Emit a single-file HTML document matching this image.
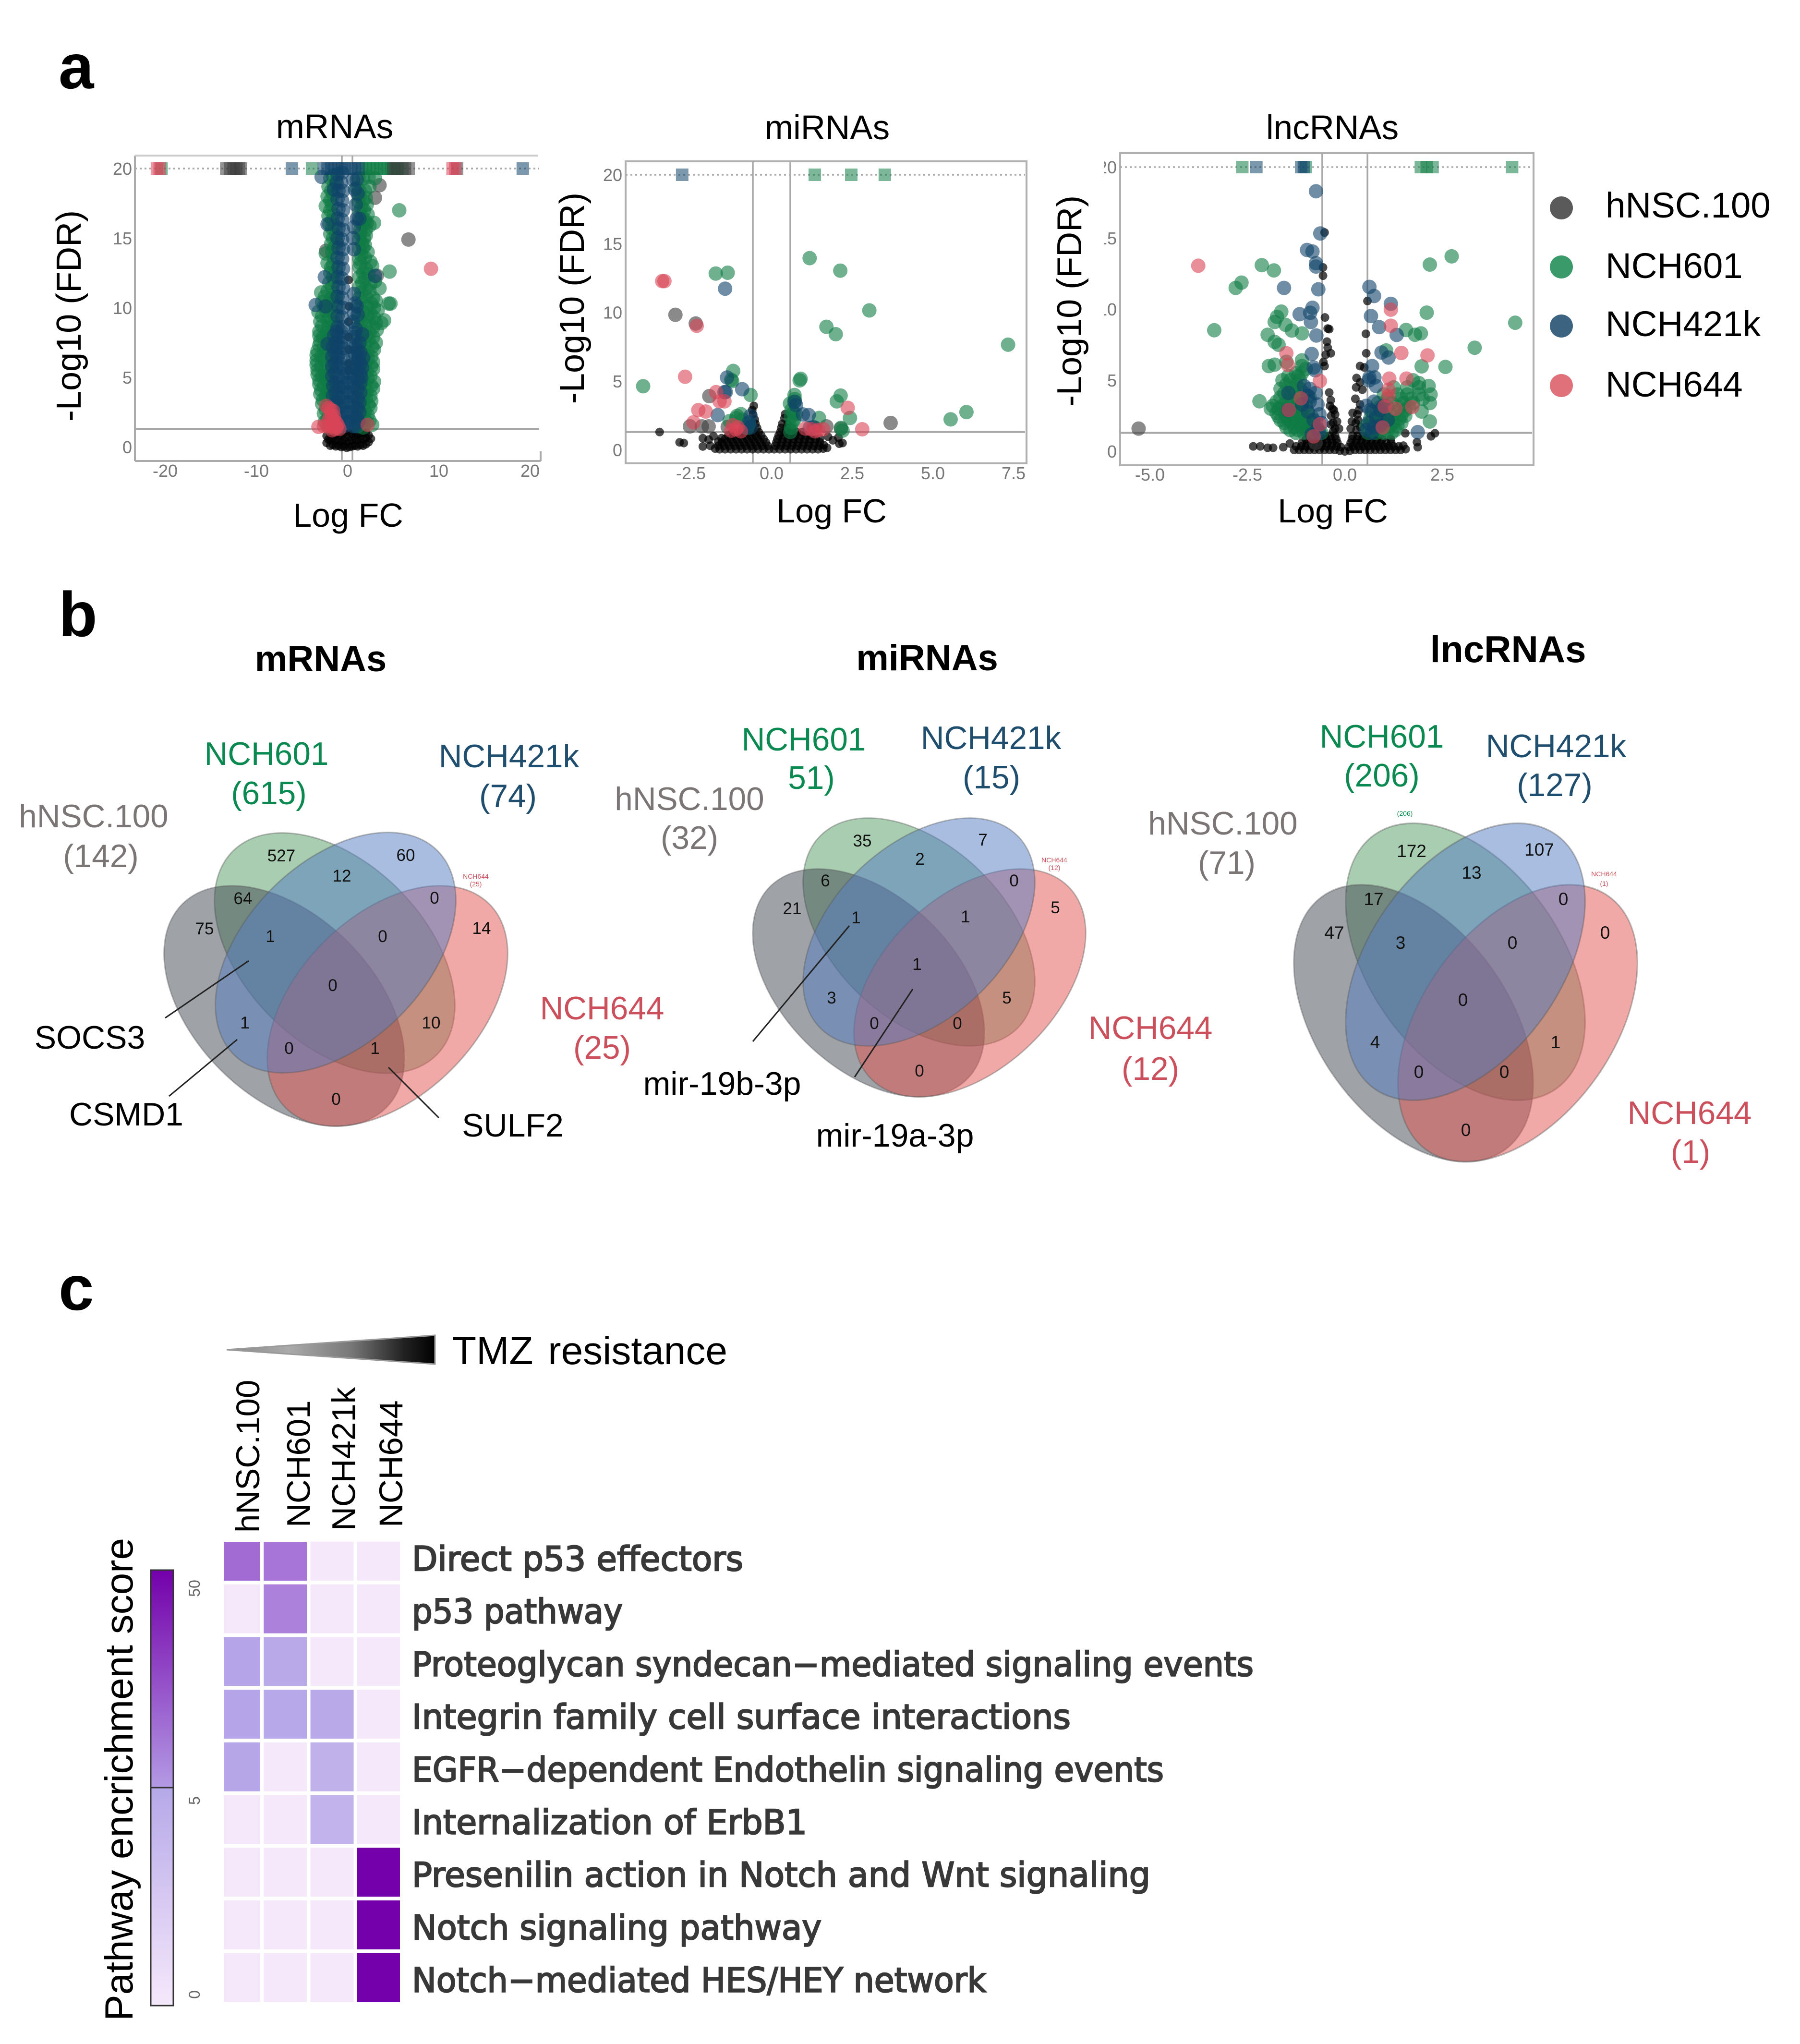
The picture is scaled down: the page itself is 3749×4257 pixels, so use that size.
<!DOCTYPE html>
<html><head><meta charset="utf-8"><title>Panels a-c</title>
<style>
html,body{margin:0;padding:0;background:#fff}
svg{display:block}
text{font-family:"Liberation Sans",sans-serif}
</style></head>
<body>
<svg id="fig" xmlns="http://www.w3.org/2000/svg" width="3749" height="4257" viewBox="0 0 3749 4257">
<defs>
<linearGradient id="tri" x1="0" x2="1" y1="0" y2="0"><stop offset="0" stop-color="#888"/><stop offset=".3" stop-color="#aaa"/><stop offset=".6" stop-color="#777"/><stop offset=".85" stop-color="#222"/><stop offset="1" stop-color="#000"/></linearGradient>
<linearGradient id="barLow" x1="0" x2="0" y1="0" y2="1"><stop offset="0" stop-color="#b5a8e8"/><stop offset="1" stop-color="#f6e8fb"/></linearGradient>
<linearGradient id="barHigh" x1="0" x2="0" y1="0" y2="1"><stop offset="0" stop-color="#7300aa"/><stop offset="1" stop-color="#b39ae4"/></linearGradient>
<clipPath id="heatClip"><rect x="466" y="3211" width="367" height="959"/></clipPath>
<clipPath id="lncLabelClip"><rect x="2299" y="300" width="100" height="700"/></clipPath>
</defs>
<rect width="3749" height="4257" fill="#fff"/>

<g font-weight="bold" font-size="132" fill="#000">
<text x="122" y="184">a</text>
<text x="122" y="1325">b</text>
<text x="122" y="2728">c</text>
</g>

<g id="volcanoes"></g>

<g font-size="74.5" fill="#000">
<circle cx="3252" cy="433" r="24" fill="#5a5a5a"/>
<circle cx="3252" cy="556" r="24" fill="#3b9a6a"/>
<circle cx="3252" cy="679" r="24" fill="#3c6481"/>
<circle cx="3252" cy="803" r="24" fill="#e0707a"/>
<text x="3344" y="453">hNSC.100</text>
<text x="3344" y="579">NCH601</text>
<text x="3344" y="700">NCH421k</text>
<text x="3344" y="826">NCH644</text>
</g>

<!-- Venn titles -->
<g font-weight="bold" font-size="76" text-anchor="middle" fill="#000">
<text x="668" y="1398">mRNAs</text>
<text x="1931" y="1396">miRNAs</text>
<text x="3141" y="1379" font-size="78">lncRNAs</text>
</g>

<!-- Venn mRNA -->
<g>
<g stroke="#5a5a5a" stroke-opacity=".4" stroke-width="3" fill-opacity=".5">
<ellipse transform="translate(697 1985) rotate(45)" rx="300" ry="188" fill="#539b61"/>
<ellipse transform="translate(592 2095) rotate(45)" rx="300" ry="188" fill="#40464f"/>
<ellipse transform="translate(807 2095) rotate(-45)" rx="300" ry="188" fill="#e1534d"/>
<ellipse transform="translate(699 1984) rotate(-45)" rx="300" ry="188" fill="#537bc1"/>
</g>
<g font-size="35" text-anchor="middle" fill="#111">
<text x="586" y="1794">527</text>
<text x="845" y="1793">60</text>
<text x="712" y="1836">12</text>
<text x="506" y="1883">64</text>
<text x="905" y="1882">0</text>
<text x="426" y="1946">75</text>
<text x="1003" y="1945">14</text>
<text x="563" y="1962">1</text>
<text x="797" y="1962">0</text>
<text x="693" y="2064">0</text>
<text x="510" y="2142">1</text>
<text x="898" y="2142">10</text>
<text x="602" y="2195">0</text>
<text x="781" y="2195">1</text>
<text x="700" y="2301">0</text>
</g>
<g font-size="67.5" text-anchor="middle">
<text x="555" y="1593" fill="#0a8a50">NCH601</text>
<text x="560" y="1675" fill="#0a8a50">(615)</text>
<text x="1060" y="1598" fill="#1f4e6e">NCH421k</text>
<text x="1058" y="1681" fill="#1f4e6e">(74)</text>
<text x="195" y="1723" fill="#7b7575">hNSC.100</text>
<text x="210" y="1806" fill="#7b7575">(142)</text>
<text x="1254" y="2123" fill="#cc4f5c">NCH644</text>
<text x="1254" y="2205" fill="#cc4f5c">(25)</text>
<text x="187" y="2184" font-size="68" fill="#000">SOCS3</text>
<text x="263" y="2344" font-size="68" fill="#000">CSMD1</text>
<text x="1068" y="2367" font-size="68" fill="#000">SULF2</text>
</g>
<g font-size="14" text-anchor="middle" fill="#cc4f5c">
<text x="991" y="1830">NCH644</text>
<text x="991" y="1846">(25)</text>
</g>
<g stroke="#222" stroke-width="3">
<line x1="344" y1="2120" x2="518" y2="2001"/>
<line x1="352" y1="2283" x2="494" y2="2165"/>
<line x1="914" y1="2328" x2="809" y2="2223"/>
</g>
</g>

<!-- Venn miRNA -->
<g>
<g stroke="#5a5a5a" stroke-opacity=".4" stroke-width="3" fill-opacity=".5">
<ellipse transform="translate(1914 1941) scale(.964 .948) rotate(45)" rx="300" ry="188" fill="#539b61"/>
<ellipse transform="translate(1809 2047) scale(.964 .948) rotate(45)" rx="300" ry="188" fill="#40464f"/>
<ellipse transform="translate(2020 2047) scale(.964 .948) rotate(-45)" rx="300" ry="188" fill="#e1534d"/>
<ellipse transform="translate(1914 1941) scale(.964 .948) rotate(-45)" rx="300" ry="188" fill="#537bc1"/>
</g>
<g font-size="35" text-anchor="middle" fill="#111">
<text x="1796" y="1763">35</text>
<text x="2047" y="1761">7</text>
<text x="1916" y="1801">2</text>
<text x="1719" y="1846">6</text>
<text x="2112" y="1846">0</text>
<text x="1650" y="1904">21</text>
<text x="2198" y="1902">5</text>
<text x="1783" y="1923">1</text>
<text x="2011" y="1921">1</text>
<text x="1910" y="2020">1</text>
<text x="1732" y="2090">3</text>
<text x="2097" y="2090">5</text>
<text x="1821" y="2143">0</text>
<text x="1994" y="2143">0</text>
<text x="1915" y="2242">0</text>
</g>
<g font-size="67.5" text-anchor="middle">
<text x="1674" y="1563" fill="#0a8a50">NCH601</text>
<text x="1690" y="1643" fill="#0a8a50">51)</text>
<text x="2064" y="1560" fill="#1f4e6e">NCH421k</text>
<text x="2065" y="1642" fill="#1f4e6e">(15)</text>
<text x="1436" y="1687" fill="#7b7575">hNSC.100</text>
<text x="1436" y="1768" fill="#7b7575">(32)</text>
<text x="2396" y="2164" fill="#cc4f5c">NCH644</text>
<text x="2396" y="2249" fill="#cc4f5c">(12)</text>
<text x="1504" y="2280" font-size="68" fill="#000">mir-19b-3p</text>
<text x="1864" y="2388" font-size="68" fill="#000">mir-19a-3p</text>
</g>
<g font-size="14" text-anchor="middle" fill="#cc4f5c">
<text x="2196" y="1796">NCH644</text>
<text x="2196" y="1812">(12)</text>
</g>
<g stroke="#222" stroke-width="3">
<line x1="1568" y1="2169" x2="1769" y2="1928"/>
<line x1="1780" y1="2243" x2="1901" y2="2060"/>
</g>
</g>

<!-- Venn lncRNA -->
<g>
<g stroke="#5a5a5a" stroke-opacity=".4" stroke-width="3" fill-opacity=".5">
<ellipse transform="translate(3052 2003) scale(.996 1.152) rotate(45)" rx="300" ry="188" fill="#539b61"/>
<ellipse transform="translate(2944 2131) scale(.996 1.152) rotate(45)" rx="300" ry="188" fill="#40464f"/>
<ellipse transform="translate(3161 2131) scale(.996 1.152) rotate(-45)" rx="300" ry="188" fill="#e1534d"/>
<ellipse transform="translate(3052 2003) scale(.996 1.152) rotate(-45)" rx="300" ry="188" fill="#537bc1"/>
</g>
<g font-size="37" text-anchor="middle" fill="#111">
<text x="2940" y="1785">172</text>
<text x="3206" y="1782">107</text>
<text x="3065" y="1830">13</text>
<text x="2861" y="1885">17</text>
<text x="3256" y="1885">0</text>
<text x="2779" y="1955">47</text>
<text x="3343" y="1955">0</text>
<text x="2917" y="1976">3</text>
<text x="3150" y="1976">0</text>
<text x="3047" y="2095">0</text>
<text x="2864" y="2183">4</text>
<text x="3240" y="2183">1</text>
<text x="2955" y="2245">0</text>
<text x="3133" y="2245">0</text>
<text x="3053" y="2366">0</text>
</g>
<g font-size="67.5" text-anchor="middle">
<text x="2878" y="1557" fill="#0a8a50">NCH601</text>
<text x="2878" y="1638" fill="#0a8a50">(206)</text>
<text x="3241" y="1577" fill="#1f4e6e">NCH421k</text>
<text x="3238" y="1658" fill="#1f4e6e">(127)</text>
<text x="2547" y="1738" fill="#7b7575">hNSC.100</text>
<text x="2555" y="1820" fill="#7b7575">(71)</text>
<text x="3519" y="2341" fill="#cc4f5c">NCH644</text>
<text x="3521" y="2422" fill="#cc4f5c">(1)</text>
</g>
<g font-size="14" text-anchor="middle">
<text x="2926" y="1699" fill="#0a8a50">(206)</text>
<text x="3341" y="1825" fill="#cc4f5c">NCH644</text>
<text x="3341" y="1845" fill="#cc4f5c">(1)</text>
</g>
</g>

<!-- Panel c -->
<polygon points="472,2811 906,2781 906,2841" fill="url(#tri)" stroke="#999" stroke-width="3"/>
<text x="942" y="2841" font-size="82" word-spacing="8" fill="#000">TMZ resistance</text>
<text transform="translate(276 3706) rotate(-90)" font-size="82" text-anchor="middle" textLength="1006" lengthAdjust="spacing" fill="#000">Pathway encrichment score</text>
<g>
<rect x="314" y="3723" width="47" height="454" fill="url(#barLow)"/>
<rect x="314" y="3270" width="47" height="453" fill="url(#barHigh)"/>
<rect x="314" y="3270" width="47" height="907" fill="none" stroke="#333" stroke-width="3"/>
<line x1="314" x2="361" y1="3723" y2="3723" stroke="#333" stroke-width="3"/>
</g>
<g id="heatmap"></g>

<g id="rowLabels"></g>
</svg>

<script>
/* ---------- Volcano data (log FC, -log10 FDR) ---------- */
const yTickValues = [0, 5, 10, 15, 20];
const mrnaXTicks = ["-20", "-10", "0", "10", "20"];
const mirnaXTicks = ["-2.5", "0.0", "2.5", "5.0", "7.5"];
const lncXTicks = ["-5.0", "-2.5", "0.0", "2.5"];

const mrnaBlack = [[-2.3,.3],[-2.3,.8],[-2.1,.55],[-1.9,.1],[-1.9,.5],[-1.9,.95],[-1.6,.15],[-1.6,.6],[-1.6,1.05],[-1.3,.05],[-1.3,.45],[-1.3,.9],[-1,.1],[-1,.55],[-1,1.05],[-.7,0],[-.7,.4],[-.7,.85],[-.4,.05],[-.4,.5],[-.4,1],[-.1,-.05],[-.1,.4],[-.1,.9],[.2,0],[.2,.45],[.2,1],[.5,.05],[.5,.5],[.5,.95],[.8,.1],[.8,.6],[.8,1.1],[1.1,.05],[1.1,.5],[1.1,.95],[1.4,.15],[1.4,.6],[1.4,1.05],[1.7,.1],[1.7,.55],[1.7,1],[2,.2],[2,.65],[2,1.05],[2.3,.35],[2.3,.85],[2.55,.6],[.1,12],[.15,10.1],[.1,9],[.1,7.9],[.15,7],[.1,6],[.1,5.5]];
const mrnaGray = [[3.5,18.8],[3,17.9],[2.1,16.1],[6.67,14.9],[-2.35,14.1],[3.2,12.3]];
const mrnaGreen = [[-1.9,19.3],[-1.3,19.2],[1.2,19.3],[2.3,19.4],[3,19.3],[-2.1,18.7],[-1.5,18.8],[1,18.6],[2.4,18.7],[-2.2,18],[-1.6,18.1],[1.3,18],[2,17.9],[-2.4,17.3],[-1.7,17.4],[1.5,17.2],[2.1,17.4],[-2.1,16.6],[-1.5,16.7],[1.6,16.5],[2.2,16.7],[-2,16],[-1.4,15.9],[1.7,16],[2.4,15.9],[2.9,16.1],[-1.9,15.3],[-1.3,15.2],[1.4,15.3],[2,15.2],[-1.8,14.6],[-1.2,14.7],[1.6,14.6],[1.9,14.5],[-2.4,13.9],[-1.7,14],[1.5,13.8],[2.2,14],[-2.2,13.2],[-1.6,13.1],[1.4,13.2],[2.5,13.3],[2.7,13],[-1.9,12.5],[-1.3,12.6],[1.7,12.5],[2.3,12.4],[4.6,12.6],[-2,11.8],[-1.4,11.9],[1.6,11.8],[2.5,11.7],[3,11.9],[-2.9,11.1],[-2.2,11.2],[-1.5,11],[1.5,11.1],[2.4,11.2],[3.5,11.4],[-2.8,10.4],[-2.1,10.3],[-1.4,10.5],[1.6,10.4],[2.6,10.3],[3.1,10.5],[4.5,10.3],[4.7,10.3],[-3.2,9.7],[-2.4,9.8],[-1.6,9.6],[1.7,9.7],[2.5,9.6],[3.3,9.8],[-3,9],[-2.2,9.1],[-1.4,8.9],[1.5,9],[2.3,9.1],[3.1,8.9],[4,9.1],[-3.1,8.3],[-2.3,8.2],[-1.5,8.4],[1.6,8.3],[2.4,8.2],[3.2,8.4],[3.7,8.9],[-3,7.6],[-2.2,7.7],[-1.4,7.5],[1.5,7.6],[2.3,7.7],[3.1,7.5],[-3.3,6.9],[-2.5,6.8],[-1.7,7],[1.4,6.9],[2.2,6.8],[2.9,7],[-3.4,6.2],[-2.6,6.3],[-1.8,6.1],[1.5,6.2],[2.2,6.3],[2.8,6.1],[-3.3,5.5],[-2.5,5.4],[-1.7,5.6],[1.4,5.5],[2.1,5.4],[2.8,5.6],[-3.1,4.8],[-2.4,4.9],[-1.7,4.7],[1.5,4.8],[2.2,4.9],[2.9,4.7],[-2.9,4.1],[-2.2,4],[-1.5,4.2],[1.4,4.1],[2.1,4],[2.8,4.2],[-2.7,3.4],[-2,3.5],[-1.4,3.3],[1.4,3.4],[2,3.5],[2.6,3.3],[-2.4,2.7],[-1.8,2.6],[-1.2,2.8],[1.3,2.7],[1.9,2.6],[2.5,2.8],[-2.2,2],[-1.6,2.1],[-1,1.9],[1.2,2],[1.8,2.1],[2.4,1.9],[-2,1.4],[-1.4,1.5],[-.9,1.4],[1.1,1.5],[1.7,1.4],[2.7,1.6],[5.66,17],
[-2.5,1.8],[-1.8,1.8],[-1.2,1.7],[1,1.8],[1.5,1.7],[2.1,1.8],[-2.6,2.4],[-2,2.3],[-1.4,2.4],[1.1,2.3],[1.6,2.4],[2.2,2.3],[-2.8,3.1],[-2.2,3],[-1.6,3.1],[1.2,3],[1.7,3.1],[2.3,3],[-3,3.8],[-2.4,3.7],[-1.8,3.8],[1.2,3.7],[1.8,3.8],[2.5,3.7],[-3.1,4.5],[-2.6,4.4],[-2,4.5],[1.3,4.4],[1.9,4.5],[2.6,4.4],[-3.3,5.2],[-2.8,5.1],[-2.1,5.2],[1.2,5.1],[1.8,5.2],[2.5,5.1],[-3.4,5.9],[-2.9,5.8],[-2.2,5.9],[1.2,5.8],[1.9,5.9],[2.6,5.8],[-3.4,6.6],[-2.9,6.5],[-2.1,6.6],[1.2,6.5],[1.8,6.6],[2.6,6.5],[-3.1,7.3],[-2.6,7.2],[-1.9,7.3],[1.2,7.2],[1.9,7.3],[2.7,7.2],[-3.1,8],[-2.7,7.9],[-1.9,8],[1.3,7.9],[2,8],[2.8,7.9],[-2.8,8.7],[-2.1,8.6],[-1.7,8.7],[1.3,8.6],[2,8.7],[2.8,8.6],[-2.8,9.4],[-2,9.3],[-1.4,9.4],[1.3,9.3],[2.1,9.4],[2.9,9.3],[-2.6,10.1],[-1.9,10],[-1.3,10.1],[1.3,10],[2.1,10.1],[2.9,10],[-2.5,10.8],[-1.8,10.7],[-1.3,10.8],[1.3,10.7],[2,10.8],[2.8,10.7],[-1.7,11.5],[1.3,11.5],[2,11.4],[-1.6,12.2],[1.3,12.2],[1.9,12.1],[-1.8,12.9],[1.3,12.9],[2,12.8],[-1.5,13.6],[1.3,13.5],[1.9,13.6],[-1.5,14.3],[1.3,14.2],[1.7,14.3],[-1.6,15],[1.3,14.9],[1.8,15],[-1.7,15.7],[1.4,15.6],[2,15.6],[-1.7,16.3],[1.3,16.2],[1.9,16.3],[-1.9,17],[1.3,16.9],[1.8,17],[-1.9,17.7],[1.2,17.6],[1.7,17.7],[-1.8,18.4],[1.3,18.4],[1.9,18.4],[-1.6,19.5],[1.7,19.3]];
const mrnaBlue = [[-2.85,19.4],[-1.1,19.6],[-.6,19.7],[-1.2,19],[-.7,19],[-1.5,18.5],[-1,18.4],[-.5,18.4],[-1.1,17.8],[-.6,17.7],[-1,17.1],[-.5,17],[-1.1,16.4],[-.6,16.3],[-2.2,16],[-1,15.7],[-.5,15.6],[-1.1,15],[-.6,14.9],[-1,14.3],[-.5,14.2],[-1.1,13.6],[-.6,13.5],[-1,12.9],[-.5,12.8],[-2.5,12.2],[-1.1,12.2],[-.6,12.1],[-1,11.5],[-.5,11.4],[-3.5,10.2],[-2.4,10.1],[-1.1,10.8],[-.6,10.7],[-1,10.1],[-.5,10],[-1.1,9.4],[-.6,9.3],[-1.1,8.6],[-.5,8.6],[-1.5,8],[-1,7.9],[-.5,7.9],[-2.2,7.4],[-1.6,7.2],[-1,7.2],[-.5,7.1],[-1.7,6.5],[-1.1,6.5],[-.5,6.4],[-1.7,5.8],[-1.1,5.8],[-.5,5.7],[-1.7,5.1],[-1.1,5],[-.5,5],[-1.6,4.4],[-1,4.3],[-.5,4.3],[-1.6,3.7],[-1,3.6],[-.5,3.6],[-1.5,3],[-.9,2.9],[-.5,2.9],[-.9,2.2],[-.5,2.2],[-.8,1.5],[-.4,1.5],[.6,19.2],[1,19.2],[.8,18.5],[1.1,18.2],[.9,17.4],[1,16.4],[1.3,16.4],[.7,15.8],[.6,15],[.7,14.2],[3,12.3],[.7,11],[.8,10.3],[1,10.1],[.7,9.6],[1.1,9.5],[.6,9],[.9,8.5],[1.6,8.1],[.7,7.9],[1.3,7.5],[.6,7.2],[1.1,6.9],[.6,6.4],[1.2,6.3],[1.7,6.4],[.6,5.7],[1.1,5.6],[1.6,5.7],[.6,5],[1.1,4.9],[1.5,5],[.6,4.3],[1.1,4.2],[.6,3.6],[1.1,3.5],[.6,2.9],[1.1,2.8],[.6,2.2],[1,2.1],[.6,1.5],[.9,1.5],
[-1.3,1.8],[-.2,1.8],[.2,1.8],[1.2,1.8],[-1.3,2.5],[-.2,2.5],[.2,2.5],[1.3,2.5],[-1.3,3.2],[-.2,3.2],[.2,3.2],[1.3,3.2],[-1.3,3.9],[-.2,3.9],[.2,3.9],[1.4,3.9],[-1.3,4.6],[-.2,4.6],[.2,4.6],[1.4,4.6],[-1.4,5.3],[-.2,5.3],[.2,5.3],[1.4,5.3],[-1.4,6],[-.8,6],[.8,6],[1.4,6],[-1.4,6.8],[-.8,6.8],[.8,6.7],[1.4,6.8],[-1.3,7.5],[-.7,7.5],[.9,7.3],[-1.2,8.3],[-.7,8.3],[.8,8.2]];
const mrnaRed = [[-2.35,2.96],[-2.1,2.8],[-1.6,2.6],[-1.9,2.3],[-1.5,2.2],[-2.1,1.9],[-1.5,1.9],[-1.8,1.5],[-1.2,1.4],[-2.2,1.5],[-1.4,1.3],[-.9,1.3],[-3.2,1.45],[-2.6,1.5],[2.2,1.6],[9.14,12.8],[-1.1,1.6],[-1.7,1.2],[-1.9,2.7],[-1.7,2],[-1.3,1.8]];
const mrnaSquaresGray = [-13.3,-12.9,-12.5,-12.2,-11.9,-11.7,5,5.4,6.3,6.7,12];
const mrnaSquaresGreen = [-20.4,-3.9,1.6,2,2.4,2.8,3.2,3.6,4,4.4,4.8,5.2,5.5,6];
const mrnaSquaresBlue = [-6.1,-2.6,-2.2,-1.8,-1.4,-1,-.6,-.3,.4,.8,1.2,19.2];
const mrnaSquaresRed = [-20.9,-20.6,11.5,11.8];

const mirnaBlack = [[-.08,.05],[-.25,.05],[-.42,.05],[-.59,.05],[-.76,.05],[-.93,.05],[-1.1,.05],[-1.27,.05],[-1.44,.05],[-1.61,.05],[-1.75,.1],[-.12,.3],[-.29,.3],[-.46,.3],[-.63,.3],[-.8,.3],[-.97,.3],[-1.14,.3],[-1.31,.3],[-1.48,.3],[-1.65,.3],[-.18,.55],[-.35,.55],[-.52,.55],[-.69,.55],[-.86,.55],[-1.03,.55],[-1.2,.55],[-1.37,.55],[-1.54,.55],[-1.65,.6],[-.25,.8],[-.42,.8],[-.59,.8],[-.76,.8],[-.93,.8],[-1.1,.8],[-1.27,.8],[-1.44,.8],[-1.55,.85],[-.32,1.05],[-.49,1.05],[-.66,1.05],[-.83,1.05],[-1,1.05],[-1.17,1.05],[-1.34,1.05],[-.4,1.3],[-.57,1.3],[-.74,1.3],[-.91,1.3],[-1.08,1.3],[-1.2,1.3],[-.45,1.6],[-.6,1.6],[-.75,1.6],[-.9,1.6],[-.5,1.9],[-.65,1.9],[-.52,2.2],[-.58,2.6],[-.6,2.9],[-.55,3.2],[-3.47,1.3],[-2.85,.55],[-2.72,.5],[-2.13,.85],[-2.13,.25],[-1.9,.3],[-1.95,.75],[-1.8,1],
[.08,.05],[.25,.05],[.42,.05],[.59,.05],[.76,.05],[.93,.05],[1.1,.05],[1.27,.05],[1.44,.05],[1.6,.1],[1.72,.15],[.12,.3],[.29,.3],[.46,.3],[.63,.3],[.8,.3],[.97,.3],[1.14,.3],[1.31,.3],[1.48,.3],[1.62,.35],[.15,.55],[.32,.55],[.49,.55],[.66,.55],[.83,.55],[1,.55],[1.17,.55],[1.34,.55],[1.5,.55],[.18,.8],[.35,.8],[.52,.8],[.69,.8],[.86,.8],[1.03,.8],[1.2,.8],[1.37,.8],[1.5,.85],[.22,1.05],[.39,1.05],[.56,1.05],[.73,1.05],[.9,1.05],[1.07,1.05],[1.24,1.05],[.27,1.3],[.44,1.3],[.61,1.3],[.78,1.3],[.95,1.3],[.3,1.6],[.47,1.6],[.64,1.6],[.33,1.9],[.5,1.9],[.4,2.3],[.42,2.6],[2.07,.9],[2.2,.5],[2.1,.45],[1.9,.7],[1.75,.95]];
const mirnaGray = [[-2.98,9.82],[-2.35,9.19],[-1.93,3.91],[3.69,1.96],[-2.53,1.71],[-2.16,1.71],[-1.95,1.71],[-1.36,1.67],[1.7,1.71],[2.15,1.55],[1.35,1.6]];
const mirnaGreen = [[1.18,13.94],[2.13,13.03],[-1.73,12.82],[-1.36,12.88],[3.03,10.14],[1.7,8.95],[1.99,8.41],[7.33,7.65],[-3.98,4.63],[-1.19,5.74],[-1.22,5],[-1.25,5.1],[-.65,3.99],[.9,5.17],[.87,5.05],[.71,3.99],[.57,3.36],[.72,3.7],[.7,3.5],[2.14,3.95],[2.02,3.53],[2.43,2.32],[1.47,2.32],[6.04,2.75],[5.55,2.22],[.62,2.9],[.68,2.7],[.6,2.4],[.7,2.2],[.65,2],[.6,1.6],[.58,1.3],[.75,2.6],[-1.07,2.47],[-.95,2.6],[-1.1,2.3],[-.9,2.2],[-1.3,2.1],[-.7,1.9],[2.2,1.4],[2.15,1.6],[-.75,1.6]];
const mirnaBlue = [[-1.44,11.72],[-1.38,5.26],[-1.42,4.2],[-1.46,4.2],[-.91,4.41],[-1.67,2.53],[-.65,2.47],[.76,3.25],[.72,3.5],[.97,2.58],[1.15,2.53],[-.8,1.63],[-.65,1.63],[1.18,1.6],[-.7,2],[1.3,1.65]];
const mirnaRed = [[-3.39,12.27],[-3.32,12.27],[-2.32,9.02],[-2.68,5.32],[-1.72,4.2],[-1.61,3.53],[-1.46,3.53],[-2.27,2.89],[-2.04,2.79],[-2.42,2],[2.36,3.06],[2.81,1.5],[-1.1,1.5],[-1.25,1.4],[-.95,1.35],[-1.05,1.65],[1.23,1.5],[1.05,1.55],[1.45,1.45],[1.6,1.5],[1.35,1.35],[-1.2,1.8]];
const mirnaSquaresGreen = [1.34,2.47,3.51];
const mirnaSquaresBlue = [-2.77];

const lncBlack = [[-.52,15.4],[-.56,12.94],[-.56,12.36],[-.51,9.42],[-.44,8.64],[-.4,8.6],[-.46,7.72],[-.44,7.3],[-.36,6.9],[-.49,6.8],[-.55,6.28],[-.52,6],[-.4,4.14],[-.36,3.6],[-.32,3],[-.35,2.5],[-.25,2.6],[-.3,2],[-.2,2.1],[-.25,1.6],[-.15,1.6],[-.38,3.2],[-.28,2.9],[-.36,1.9],[-.3,1.4],[.58,10.58],[.54,8.27],[.55,6.9],[.39,6],[.5,5.9],[.3,5.16],[.39,4.85],[.29,4.5],[.45,4.34],[.27,3.7],[.39,3.3],[.2,2.7],[.32,2.6],[.18,2.1],[.28,2],[.15,1.6],[.3,1.5],[.36,2.9],[.34,2.2],[.4,1.7],[-2.35,.35],[-2.17,.35],[-1.98,.25],[-1.84,.25],[-1.58,.29],[-1.41,.55],[1.85,.65],[1.87,.29],[1.55,1.27],[2.21,1.06],[2.31,1.27],[1.18,.86],
[-1.3,.1],[-1.17,.1],[-1.04,.1],[-.91,.1],[-.78,.1],[-.65,.1],[-.52,.1],[-.39,.1],[-.26,.1],[-.13,.05],[0,0],[.13,.05],[.26,.1],[.39,.1],[.52,.1],[.65,.1],[.78,.1],[.91,.1],[1.04,.1],[1.17,.1],[1.3,.1],[1.43,.1],[1.56,.15],[-1.25,.35],[-1.12,.35],[-.99,.35],[-.86,.35],[-.73,.35],[-.6,.35],[-.47,.35],[-.34,.35],[-.21,.35],[-.1,.3],[.1,.3],[.21,.35],[.34,.35],[.47,.35],[.6,.35],[.73,.35],[.86,.35],[.99,.35],[1.12,.35],[1.25,.35],[1.38,.35],[1.5,.4],[-1.1,.6],[-.97,.6],[-.84,.6],[-.71,.6],[-.58,.6],[-.45,.6],[-.32,.6],[-.19,.6],[.15,.6],[.28,.6],[.41,.6],[.54,.6],[.67,.6],[.8,.6],[.93,.6],[1.06,.6],[1.19,.6],[-1,.85],[-.87,.85],[-.74,.85],[-.61,.85],[-.48,.85],[-.35,.85],[-.22,.85],[.18,.85],[.31,.85],[.44,.85],[.57,.85],[.7,.85],[.83,.85],[.96,.85],[-.9,1.1],[-.77,1.1],[-.64,1.1],[-.51,1.1],[-.38,1.1],[-.25,1.1],[.2,1.1],[.33,1.1],[.46,1.1],[.59,1.1],[.72,1.1],[.85,1.1]];
const lncGray = [[-5.29,1.6],[-.75,.6]];
const lncGreen = [[-2.13,13.1],[-1.82,12.73],[-2.65,11.87],[-2.8,11.5],[-3.35,8.52],[-1.63,9.83],[-1.74,9.46],[-1.8,9.1],[-1.52,8.9],[-1.36,8.5],[-1.1,8.3],[-1.98,8.2],[-1.8,7.7],[-1.7,7.5],[-1.25,1.3],[-1.05,1.3],[-.9,1.3],[-.75,1.3],[-.6,1.3],[-1.5,1.7],[-1.3,1.7],[-1.1,1.7],[-.95,1.7],[-.8,1.7],[-1.65,2.2],[-1.45,2.2],[-1.25,2.2],[-1.05,2.2],[-.9,2.2],[-1.75,2.7],[-1.55,2.7],[-1.35,2.7],[-1.15,2.7],[-.95,2.7],[-1.85,3.2],[-1.6,3.2],[-1.4,3.2],[-1.2,3.2],[-1,3.2],[-2.19,3.52],[-1.65,3.8],[-1.4,3.8],[-1.2,3.8],[-.9,3.8],[-1.65,4.4],[-1.35,4.4],[-1.15,4.4],[-1.6,5],[-1.4,5],[-1.15,5],[-1.25,5.5],[-1.1,5.5],[-1.95,6],[-1.8,6.1],[-1.5,6.3],[-1.1,6],[-1,5.8],[-1.1,6.4],[2.74,13.72],[2.18,13.14],[2.1,9.76],[4.37,9.05],[3.33,7.29],[2.58,5.94],[1.97,5.98],[1.57,8.54],[1.8,8.2],[1.95,8.3],[1.06,7.1],[.6,1.3],[.8,1.3],[1,1.3],[1.2,1.3],[.55,1.8],[.75,1.8],[.95,1.8],[1.15,1.8],[1.35,1.8],[.65,2.3],[.9,2.3],[1.1,2.3],[1.4,2.3],[1.55,2.5],[.7,2.8],[.95,2.8],[1.3,2.8],[1.55,2.9],[1.97,2.8],[.85,3.4],[1.2,3.4],[1.5,3.4],[1.75,3.4],[2.18,3.4],[1,4],[1.35,4],[1.6,4],[1.9,4],[2.2,4],[1.25,4.5],[1.6,4.5],[1.9,4.5],[2.15,4.6],[1.75,5],[1.9,4.8],[2.18,2.1],
[-1.4,1.5],[-1.2,1.5],[-1,1.5],[-.85,1.5],[-.7,1.5],[-1.55,2],[-1.35,2],[-1.15,2],[-1,2],[-.8,2],[-1.7,2.45],[-1.5,2.45],[-1.3,2.45],[-1.1,2.45],[-.85,2.45],[-1.9,3],[-1.7,3],[-1.5,3],[-1.3,3],[-1.1,3],[-1.75,3.5],[-1.5,3.5],[-1.3,3.5],[-1.1,3.5],[-1.55,4.1],[-1.3,4.1],[-1.05,4.1],[-1.5,4.7],[-1.25,4.7],[-1.45,5.3],[-1.2,5.3],[.7,1.5],[.9,1.5],[1.1,1.5],[1.3,1.5],[.65,2],[.85,2],[1.05,2],[1.25,2],[1.45,2],[.8,2.55],[1,2.55],[1.2,2.55],[1.45,2.55],[.9,3.1],[1.1,3.1],[1.4,3.1],[1.65,3.1],[1.1,3.7],[1.45,3.7],[1.7,3.7],[2,3.7]];
const lncBlue = [[-.74,18.3],[-.63,15.33],[-.97,14.17],[-.83,14.06],[-.74,13.24],[-.74,13],[-1.56,11.5],[-.68,11.4],[.63,11.57],[.75,10.93],[1.18,10.38],[-.83,10.1],[-1.16,9.65],[-.89,9.75],[-.87,9.1],[.67,9.52],[.88,8.74],[1.33,8.19],[-.73,8.15],[-.85,6.85],[-.8,5.9],[-.76,5.7],[.94,6.95],[1.12,6.6],[.7,6],[.63,5.2],[.76,5.2],[-1.05,4.6],[-.9,4.4],[-.75,4.1],[-.9,3.5],[-.7,3.3],[-.95,2.8],[-.65,2.6],[-1.45,4.1],[-.7,1.6],[-.65,1.3],[-.6,2],[-1.45,2.9],[.55,1.5],[.7,1.3],[.6,2],[.8,2.4],[.65,2.9],[.55,3.2],[1,3.2],[.9,1.8],[1.87,1.35],[.62,5],[.8,4.6],[-.85,1.2],[-.8,2.2],[-.95,3.9],[-1.1,3.3],[.75,1.7],[.9,2.9],[.75,3.5],[1.1,2.2]];
const lncRed = [[-3.76,13.06],[1.18,9.97],[1.18,8.84],[-1.5,6.9],[-1.46,6.08],[1.45,6.92],[2.12,6.75],[1.14,5.12],[1.58,5.12],[1.12,4.34],[1.12,3.9],[1.02,3.15],[1.73,3.11],[-.64,4.95],[-1.13,3.73],[-1.44,2.91],[.97,1.68],[-.8,1.05],[-.64,1.9],[1.3,3]];
const lncSquaresGreen = [-2.63,-1,1.95,2.1,2.25,4.29];
const lncSquaresBlue = [-2.27,-1.12,-1.05];

/* ---------- Heatmap data ---------- */
const heatmapSamples = ["hNSC.100","NCH601","NCH421k","NCH644"];
const heatmapPathways = ["Direct p53 effectors","p53 pathway","Proteoglycan syndecan−mediated signaling events","Integrin family cell surface interactions","EGFR−dependent Endothelin signaling events","Internalization of ErbB1","Presenilin action in Notch and Wnt signaling","Notch signaling pathway","Notch−mediated HES/HEY network"];
const heatmapValues = [
 [15,12,0,0],
 [0,8,0,0],
 [4.8,4.5,0,0],
 [4.8,4.6,4.5,0],
 [4.7,0,3.9,0],
 [0,0,3.8,0],
 [0,0,0,50],
 [0,0,0,50],
 [0,0,0,50]
];
const colorbarTicks = [0,5,50];
const rowLabelLengths = [690,439,1753,1372,1566,823,1538,853,1196];

/* ---------- helpers ---------- */
const NS = "http://www.w3.org/2000/svg";
const fig = document.getElementById("fig");
const colors = {black:["#000",.7], gray:["#3c3c3c",.6], green:["#0f7b44",.6], blue:["#0f4369",.6], red:["#d94457",.6]};

function make(tag, parent){
  const el = document.createElementNS(NS, tag);
  parent.appendChild(el);
  return el;
}
function put(el, key, val){ el.setAttribute(key, val); }

function drawVolcano(root, p){
  const sx = v => p.x0 + v * p.ux;
  const sy = v => p.y0 - v * p.uy;

  // frame
  if (p.closed) {
    const fr = make("rect", root);
    put(fr,"x",p.left); put(fr,"y",p.top); put(fr,"width",p.right-p.left); put(fr,"height",p.bottom-p.top);
    put(fr,"fill","none"); put(fr,"stroke","#b0b0b0"); put(fr,"stroke-width",4);
    
    
  } else {
    [[p.left,p.top,p.left,p.bottom,"#aaa"],[p.left,p.bottom,p.right,p.bottom,"#aaa"],[p.left,p.top,p.right-6,p.top,"#ccc"],[p.right,p.bottom-20,p.right,p.bottom,"#aaa"]].forEach(s=>{
      const l = make("line", root);
      put(l,"x1",s[0]); put(l,"y1",s[1]); put(l,"x2",s[2]); put(l,"y2",s[3]); put(l,"stroke",s[4]); put(l,"stroke-width",4);
      
      
    });
  }
  // threshold lines
  p.vThresholds.forEach(v=>{
    const l = make("line", root);
    put(l,"x1",sx(v)); put(l,"x2",sx(v)); put(l,"y1",p.top); put(l,"y2",p.bottom); put(l,"stroke","#a8a8a8"); put(l,"stroke-width",3.5);
    
    
  });
  const h = make("line", root);
  put(h,"x1",p.left); put(h,"x2",p.right-3); put(h,"y1",sy(p.hThreshold)); put(h,"y2",sy(p.hThreshold)); put(h,"stroke","#a8a8a8"); put(h,"stroke-width",4);
  
  
  const d = make("line", root);
  put(d,"x1",p.left); put(d,"x2",p.right-3); put(d,"y1",sy(20)); put(d,"y2",sy(20)); put(d,"stroke","#aaa"); put(d,"stroke-width",3.5); put(d,"stroke-dasharray","4 6");
  
  

  // ticks
  p.xTicks.forEach(t=>{
    const e = make("text", root);
    put(e,"x",sx(parseFloat(t))); put(e,"y",p.xLabelY); put(e,"font-size",36); put(e,"text-anchor","middle"); put(e,"fill","#777");
    
    
    e.textContent = t;
  });
  yTickValues.forEach(t=>{
    const e = make("text", root);
    put(e,"x",p.yLabelX); put(e,"y",sy(t)+13); put(e,"font-size",36); put(e,"text-anchor","end"); put(e,"fill","#777");
    if (p.clipY) put(e,"clip-path","url(#"+p.clipY+")");
    
    
    e.textContent = t;
  });

  // series
  p.points.forEach(s=>{
    const g = make("g", root);
    
    
    s.data.forEach(pt=>{
      const c = make("circle", g);
      put(c,"cx",sx(pt[0])); put(c,"cy",sy(pt[1])); put(c,"r",s.r);
      put(c,"fill",colors[s.color][0]); put(c,"fill-opacity",colors[s.color][1]);
      
      
    });
  });
  p.squares.forEach(s=>{
    const g = make("g", root);
    
    
    s.data.forEach(v=>{
      const c = make("rect", g);
      put(c,"x",sx(v)-13); put(c,"y",sy(20)-13); put(c,"width",26); put(c,"height",26);
      put(c,"fill",colors[s.color][0]); put(c,"fill-opacity",.55);
      
      
    });
  });

  // titles
  const t = make("text", root);
  put(t,"x",p.titleX); put(t,"y",p.titleY); put(t,"font-size",71); put(t,"text-anchor","middle");
  
  
  t.textContent = p.title;
  const xt = make("text", root);
  put(xt,"x",p.xTitleX); put(xt,"y",p.xTitleY); put(xt,"font-size",70); put(xt,"text-anchor","middle");
  
  
  xt.textContent = "Log FC";
  const yt = make("text", root);
  put(yt,"transform","translate("+p.yTitleX+" "+p.yTitleY+") rotate(-90)"); put(yt,"font-size",72); put(yt,"text-anchor","middle");
  
  
  yt.textContent = "-Log10 (FDR)";
}

const vRoot = document.getElementById("volcanoes");
const g1 = make("g", vRoot);


drawVolcano(g1, {left:281,right:1126,top:324,bottom:960,x0:724,ux:19,y0:931,uy:29,closed:false,
  vThresholds:[-.63,.53],hThreshold:1.3,xTicks:mrnaXTicks,xLabelY:993,yLabelX:275,
  points:[{name:"not-significant",data:mrnaBlack,color:"black",r:9},{name:"hnsc100",data:mrnaGray,color:"gray",r:15},{name:"nch601",data:mrnaGreen,color:"green",r:15},{name:"nch421k",data:mrnaBlue,color:"blue",r:15},{name:"nch644",data:mrnaRed,color:"red",r:15}],
  squares:[{name:"nch601",data:mrnaSquaresGreen,color:"green"},{name:"hnsc100",data:mrnaSquaresGray,color:"gray"},{name:"nch421k",data:mrnaSquaresBlue,color:"blue"},{name:"nch644",data:mrnaSquaresRed,color:"red"}],
  title:"mRNAs",titleX:697,titleY:288,xTitleX:725,xTitleY:1097,yTitleX:168,yTitleY:658});

const g2 = make("g", vRoot);


drawVolcano(g2, {left:1303,right:2138,top:336,bottom:965,x0:1607,ux:67.2,y0:937,uy:28.65,closed:true,
  vThresholds:[-.58,.58],hThreshold:1.3,xTicks:mirnaXTicks,xLabelY:998,yLabelX:1296,
  points:[{name:"not-significant",data:mirnaBlack,color:"black",r:9},{name:"hnsc100",data:mirnaGray,color:"gray",r:15},{name:"nch601",data:mirnaGreen,color:"green",r:15},{name:"nch421k",data:mirnaBlue,color:"blue",r:15},{name:"nch644",data:mirnaRed,color:"red",r:15}],
  squares:[{name:"nch601",data:mirnaSquaresGreen,color:"green"},{name:"nch421k",data:mirnaSquaresBlue,color:"blue"}],
  title:"miRNAs",titleX:1723,titleY:290,xTitleX:1732,xTitleY:1088,yTitleX:1216,yTitleY:621});

const g3 = make("g", vRoot);


drawVolcano(g3, {left:2333,right:3194,top:319,bottom:969,x0:2801,ux:81.2,y0:940,uy:29.6,closed:true,
  vThresholds:[-.58,.58],hThreshold:1.3,xTicks:lncXTicks,xLabelY:1001,yLabelX:2326,clipY:"lncLabelClip",
  points:[{name:"not-significant",data:lncBlack,color:"black",r:9},{name:"hnsc100",data:lncGray,color:"gray",r:15},{name:"nch601",data:lncGreen,color:"green",r:15},{name:"nch421k",data:lncBlue,color:"blue",r:15},{name:"nch644",data:lncRed,color:"red",r:15}],
  squares:[{name:"nch601",data:lncSquaresGreen,color:"green"},{name:"nch421k",data:lncSquaresBlue,color:"blue"}],
  title:"lncRNAs",titleX:2775,titleY:290,xTitleX:2776,xTitleY:1088,yTitleX:2252,yTitleY:627});

/* ---------- Heatmap ---------- */
function lerp(a,b,t){ return a.map((v,i)=>Math.round(v+(b[i]-v)*t)); }
function heatColor(v){
  const c = v<=5 ? lerp([246,232,251],[178,162,231],v/5) : lerp([176,138,224],[115,0,170],(v-5)/45);
  return "rgb("+c.join(",")+")";
}
const cellX = i => 452 + i * 97.3;
const cellY = j => 3190 + j * 109.7;
const heatRoot = document.getElementById("heatmap");
const cellsG = make("g", heatRoot);
put(cellsG,"clip-path","url(#heatClip)");


heatmapValues.forEach((row,j)=>{
  row.forEach((v,i)=>{
    const r = make("rect", cellsG);
    put(r,"x",cellX(i)); put(r,"y",cellY(j)); put(r,"width",90); put(r,"height",102); put(r,"fill",heatColor(v));
    
    
  });
});
heatmapSamples.forEach((s,i)=>{
  const t = make("text", heatRoot);
  put(t,"transform","translate("+(cellX(i)+[88,96,93,94][i])+" "+[3192,3181,3188,3181][i]+") rotate(-90)");
  put(t,"font-size",69);
  
  
  t.textContent = s;
});
const rowRoot = document.getElementById("rowLabels");
heatmapPathways.forEach((s,j)=>{
  const t = make("text", rowRoot);
  put(t,"x",858); put(t,"y",cellY(j)+81);
  put(t,"font-size",70); put(t,"fill","#383838"); put(t,"stroke","#383838"); put(t,"stroke-width",2.4);
  put(t,"style",'font-family:"DejaVu Sans",sans-serif');
  put(t,"textLength",rowLabelLengths[j]); put(t,"lengthAdjust","spacingAndGlyphs");
  
  
  t.textContent = s;
});
/* colour bar ticks */
function barY(v){ return v<=5 ? 4154 - v/5*404 : 3750 - (v-5)/45*442; }
colorbarTicks.forEach(v=>{
  const t = make("text", heatRoot);
  put(t,"transform","translate(416 "+barY(v)+") rotate(-90)");
  put(t,"font-size",32); put(t,"text-anchor","middle"); put(t,"fill","#666");
  
  
  t.textContent = v;
});
</script>
</body></html>
